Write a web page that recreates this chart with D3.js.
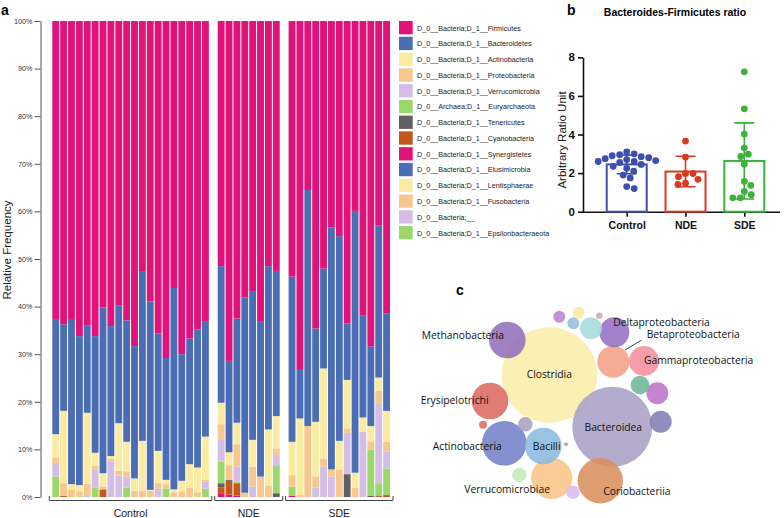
<!DOCTYPE html>
<html>
<head>
<meta charset="utf-8">
<script src="https://cdn.jsdelivr.net/npm/d3@7/dist/d3.min.js"></script>
<style>
  body { margin: 0; background: #fff; }
  svg { display: block; }
</style>
</head>
<body>
<svg id="fig" width="784" height="518"></svg>
<script>
// ---------- panel a : relative frequency per sample ----------
var controlIds = ['C1','C2','C3','C4','C5','C6','C7','C8','C9','C10','C11','C12','C13','C14','C15','C16','C17','C18','C19','C20'];
var ndeIds = ['N1','N2','N3','N4','N5','N6','N7','N8'];
var sdeIds = ['S1','S2','S3','S4','S5','S6','S7','S8','S9','S10','S11','S12','S13'];
var groupNames = ['Control', 'NDE', 'SDE'];

// values in %, order: C1..C20, N1..N8, S1..S13
var firmicutes = [62.6,63.7,62.8,66.2,63.9,66.2,60.2,64.1,59.7,62.9,68.3,52.7,58.9,65.6,70.8,56.1,70.0,66.7,64.8,63.2,
  51.5,71.4,62.5,58.1,56.9,63.2,51.5,52.5,
  53.7,73.3,35.5,64.6,52.0,43.4,45.2,63.5,39.9,61.8,68.4,42.9,61.4];
var bacteroidetes = [24.2,18.2,34.5,31.3,18.4,24.5,34.8,27.3,24.8,25.5,27.8,35.5,39.6,24.7,25.6,42.3,26.6,26.4,29.0,24.1,
  28.7,19.2,21.9,41.0,31.1,32.5,34.3,30.5,
  34.7,10.2,49.6,19.6,21.0,50.8,43.0,11.9,55.0,21.5,16.7,32.0,20.5];
var actinobacteria = [4.9,15.2,1.2,1.3,14.9,2.8,2.8,0.5,10.0,6.2,2.6,10.5,0.2,6.8,0.9,0.6,2.2,5.0,5.2,9.0,
  4.5,2.7,4.5,0,5.6,0,11.9,6.8,
  7.0,16.1,0,11.5,18.9,0,6.1,10.2,3.1,3.0,3.2,2.8,6.5];
var proteobacteria = [1.4,2.7,1.5,1.2,2.4,0.8,0.6,0.7,1.0,1.1,1.3,1.3,1.3,1.1,0.9,1.0,1.2,1.9,1.0,0.4,
  3.3,3.1,4.7,0.9,4.2,4.3,2.3,1.4,
  2.4,0.4,14.9,2.3,1.7,1.5,5.7,0.9,2.0,0,1.7,2.6,2.1];
var verrucomicrobia = [2.6,0,0,0,0.4,3.7,0,7.4,4.5,2.3,0,0,0,1.8,0,0,0,0,0,1.6,
  4.6,0,3.2,0,2.2,0,0,2.3,
  0,0,0,2.0,6.4,4.3,0,8.7,0,13.7,0,16.8,3.5];
var euryarchaeota = [4.3,0,0,0,0,2.0,0,0,0,2.0,0,0,0,0,1.8,0,0,0,0,1.7,
  4.5,0,0.3,0,0,0,0,5.7,
  1.9,0,0,0,0,0,0,0,0,0,9.7,2.7,5.6];
var tenericutes = [0,0,0,0,0,0,0,0,0,0,0,0,0,0,0,0,0,0,0,0,
  0.9,0.2,0,0,0,0,0,0.8,
  0,0,0,0,0,0,0,4.8,0,0,0.3,0,0];
var cyanobacteria = [0,0.2,0,0,0,0,1.6,0,0,0,0,0,0,0,0,0,0,0,0,0,
  1.2,2.9,2.6,0,0,0,0,0,
  0,0,0,0,0,0,0,0,0,0,0,0.2,0.4];
var synergistetes = [0,0,0,0,0,0,0,0,0,0,0,0,0,0,0,0,0,0,0,0,
  0.8,0.5,0.3,0,0,0,0,0,
  0.3,0,0,0,0,0,0,0,0,0,0,0,0];

var legendNames = [
  'D_0__Bacteria;D_1__Firmicutes',
  'D_0__Bacteria;D_1__Bacteroidetes',
  'D_0__Bacteria;D_1__Actinobacteria',
  'D_0__Bacteria;D_1__Proteobacteria',
  'D_0__Bacteria;D_1__Verrucomicrobia',
  'D_0__Archaea;D_1__Euryarchaeota',
  'D_0__Bacteria;D_1__Tenericutes',
  'D_0__Bacteria;D_1__Cyanobacteria',
  'D_0__Bacteria;D_1__Synergistetes',
  'D_0__Bacteria;D_1__Elusimicrobia',
  'D_0__Bacteria;D_1__Lentisphaerae',
  'D_0__Bacteria;D_1__Fusobacteria',
  'D_0__Bacteria;__',
  'D_0__Bacteria;D_1__Epsilonbacteraeota'
];
var palette = ['#e1127a','#4a6db4','#fbeba2','#f8c68f','#d5bee6','#9cd76c','#606060','#c4571c'];
var pctTicks = [0,10,20,30,40,50,60,70,80,90,100];

// ---------- panel b : Bacteroides-Firmicutes ratio ----------
var ratioControl = [3.1,3.0,2.95,2.9,2.85,2.8,2.75,2.7,2.65,2.6,2.6,2.55,2.45,2.35,2.25,2.1,1.9,1.75,1.3,1.2];
var ratioNDE = [3.66,2.83,1.98,1.98,1.81,1.68,1.48,1.42];
var ratioSDE = [7.25,5.33,4.02,3.31,2.98,2.86,2.46,1.36,1.57,1.05,0.88,0.72,0.72];
var ratioMean = [2.45, 2.08, 2.63];
var ratioSD = [0.48, 0.79, 1.97];
var ratioTicks = [0,2,4,6,8];
var groupColors = ['#3f4fb0','#d9391f','#3cb33b'];

// ---------- panel c : bubble chart of classes ----------
var bubbleValue = [100,70.3,22.6,21.9,18.8,14.7,14.7,14.7,11.3,9.9,9.9,5.3,5.3,5.3,3.8,2.3,2.3,2.0,1.6,1.6,1.6,0.7,0.48,0.18];
var bubbleX = [149.3,212.3,200.3,104.3,151.7,107.3,90,143.3,213.3,214.3,244,257.3,260.7,191,240,119.3,125.3,173,173.3,178.7,159.3,83,199.3,166];
var bubbleY = [85,136.7,190.7,153.3,188.3,50,111,156,71.7,42.3,71,103.3,131.7,38.3,95,185,134.3,202.3,33.3,22.7,26.7,134.7,25.7,154.3];
var bubbleColor = ['#fcedaa','#a9a1c5','#dd8f5e','#7282ca','#f9c486','#9171b9','#dc6a61','#8bbadf',
  '#f5a083','#9470c3','#f6909e','#bb74ca','#837db5','#a5dbdb','#6db797','#c3ecb7','#aaa2c3','#dcbcec',
  '#95bfe2','#fbe9a4','#b785d1','#dd6d5f','#ceaab3','#9ab2af'];
var labelText = ['Methanobacteria','Clostridia','Deltaproteobacteria','Betaproteobacteria','Gammaproteobacteria',
  'Erysipelotrichi','Bacteroidea','Actinobacteria','Bacilli','Verrucomicrobiae','Coriobacteriia'];
var labelX = [21.7,149.3,213.3,246.7,244,20.7,213.3,32.7,146.7,64.3,203.3];
var labelY = [49.3,88,36,48.3,74,114,140.7,160,160,202.7,205];
var labelAnchor = ['start','middle','start','start','start','start','middle','start','middle','start','start'];

var svg = d3.select('#fig');
var sans = '"Liberation Sans", Arial, Helvetica, sans-serif';

// ================= panel a =================
var slots = controlIds.concat(['gap1'], ndeIds, ['gap2'], sdeIds);
var sampleIds = controlIds.concat(ndeIds, sdeIds);
var rows = sampleIds.map(function (id, i) {
  return {
    id: id,
    firmicutes: firmicutes[i], bacteroidetes: bacteroidetes[i], actinobacteria: actinobacteria[i],
    proteobacteria: proteobacteria[i], verrucomicrobia: verrucomicrobia[i], euryarchaeota: euryarchaeota[i],
    tenericutes: tenericutes[i], cyanobacteria: cyanobacteria[i], synergistetes: synergistetes[i]
  };
});
// bottom -> top (legend order reversed)
var stackKeys = ['synergistetes','cyanobacteria','tenericutes','euryarchaeota','verrucomicrobia',
  'proteobacteria','actinobacteria','bacteroidetes','firmicutes'];
var keyColor = {
  firmicutes: palette[0], bacteroidetes: palette[1], actinobacteria: palette[2], proteobacteria: palette[3],
  verrucomicrobia: palette[4], euryarchaeota: palette[5], tenericutes: palette[6], cyanobacteria: palette[7],
  synergistetes: palette[0]
};

var xA = d3.scaleBand().domain(slots).range([51.8, 390.5]).paddingInner(0.13).paddingOuter(0.065);
var yA = d3.scaleLinear().domain([0, 100]).range([497, 21]);

var series = d3.stack().keys(stackKeys)(rows);
svg.append('g').selectAll('g')
  .data(series).enter()
  .append('g')
  .attr('fill', function (d) { return keyColor[d.key]; })
  .selectAll('rect')
  .data(function (d) { return d; }).enter()
  .append('rect')
  .attr('x', function (d) { return xA(d.data.id); })
  .attr('width', xA.bandwidth())
  .attr('y', function (d) { return yA(d[1]); })
  .attr('height', function (d) { return Math.max(0, yA(d[0]) - yA(d[1])); });

var axA = svg.append('g')
  .attr('transform', 'translate(40.5,0)')
  .call(d3.axisLeft(yA).tickValues(pctTicks).tickFormat(function (d) { return d + '%'; }).tickSize(6).tickSizeOuter(0).tickPadding(2));
axA.select('.domain').attr('stroke', '#555');
axA.selectAll('.tick line').attr('stroke', '#555');
axA.selectAll('text').attr('font-family', sans).attr('font-size', 7.2).attr('fill', '#333');

svg.append('text')
  .attr('transform', 'translate(10.5,250) rotate(-90)')
  .attr('text-anchor', 'middle')
  .attr('font-family', sans).attr('font-size', 11.5).attr('fill', '#222')
  .text('Relative Frequency');

svg.append('text').attr('x', 1).attr('y', 15)
  .attr('font-family', sans).attr('font-size', 14).attr('font-weight', 'bold')
  .text('a');

// group brackets
var groupIds = [controlIds, ndeIds, sdeIds];
groupIds.forEach(function (ids, g) {
  var x0 = xA(ids[0]) - 3, x1 = xA(ids[ids.length - 1]) + xA.bandwidth() + 3;
  svg.append('path')
    .attr('d', 'M' + x0 + ',496V500.5H' + x1 + 'V496')
    .attr('fill', 'none').attr('stroke', '#444').attr('stroke-width', 1);
  svg.append('text')
    .attr('x', (x0 + x1) / 2).attr('y', 517)
    .attr('text-anchor', 'middle')
    .attr('font-family', sans).attr('font-size', 10.5).attr('fill', '#222')
    .text(groupNames[g]);
});

// legend
var lg = svg.append('g').selectAll('g')
  .data(legendNames).enter()
  .append('g')
  .attr('transform', function (d, i) { return 'translate(399,' + (21 + i * 15.77) + ')'; });
lg.append('rect').attr('width', 13.7).attr('height', 13.3)
  .attr('fill', function (d, i) { return palette[i % palette.length]; });
lg.append('text').attr('x', 18).attr('y', 9.5)
  .attr('font-family', sans).attr('font-size', 7.2).attr('fill', '#222')
  .text(function (d) { return d; });

// ================= panel b =================
var yB = d3.scaleLinear().domain([0, 8]).range([211.7, 57.3]);
var xB = d3.scalePoint().domain(groupNames).range([626.7, 744.3]);
var barW = 40;

var axB = svg.append('g')
  .attr('transform', 'translate(583,0)')
  .call(d3.axisLeft(yB).tickValues(ratioTicks).tickSize(5).tickSizeOuter(0).tickPadding(3));
axB.select('.domain').attr('stroke', '#111').attr('stroke-width', 1.6);
axB.selectAll('.tick line').attr('stroke', '#111').attr('stroke-width', 1.6);
axB.selectAll('text').attr('font-family', sans).attr('font-size', 11.5).attr('font-weight', 'bold').attr('fill', '#111');

var axBx = svg.append('g')
  .attr('transform', 'translate(0,211.7)')
  .call(d3.axisBottom(xB).tickSize(5).tickSizeOuter(0).tickPadding(5));
axBx.select('.domain').attr('d', 'M583,0.5H780').attr('stroke', '#111').attr('stroke-width', 1.6);
axBx.selectAll('.tick line').attr('stroke', '#111').attr('stroke-width', 1.6);
axBx.selectAll('text').attr('font-family', sans).attr('font-size', 10.5).attr('font-weight', 'bold').attr('fill', '#111');

svg.append('text')
  .attr('transform', 'translate(566,140) rotate(-90)')
  .attr('text-anchor', 'middle')
  .attr('font-family', sans).attr('font-size', 11.5).attr('fill', '#222')
  .text('Arbitrary Ratio Unit');

svg.append('text').attr('x', 675).attr('y', 15.5)
  .attr('text-anchor', 'middle')
  .attr('font-family', sans).attr('font-size', 10.5).attr('font-weight', 'bold')
  .text('Bacteroides-Firmicutes ratio');
svg.append('text').attr('x', 567).attr('y', 15)
  .attr('font-family', sans).attr('font-size', 14).attr('font-weight', 'bold')
  .text('b');

svg.append('g').selectAll('rect')
  .data(groupNames).enter()
  .append('rect')
  .attr('x', function (d) { return xB(d) - barW / 2; })
  .attr('width', barW)
  .attr('y', function (d, i) { return yB(ratioMean[i]); })
  .attr('height', function (d, i) { return yB(0) - yB(ratioMean[i]); })
  .attr('fill', '#fff')
  .attr('stroke', function (d, i) { return groupColors[i]; })
  .attr('stroke-width', 2);

// simple dodge so points do not overlap (like a scatter dot plot)
var dotR = 3.4;
function dodge(vals) {
  var placed = [];
  var order = vals.map(function (v, i) { return i; }).sort(function (a, b) { return vals[b] - vals[a]; });
  var out = new Array(vals.length);
  order.forEach(function (i) {
    var y = yB(vals[i]), best = 0;
    for (var k = 0; k < 200; k++) {
      var off = (k % 2 ? 1 : -1) * Math.ceil(k / 2) * 0.5;
      var ok = placed.every(function (p) {
        var dx = p[0] - off, dy = p[1] - y;
        return dx * dx + dy * dy >= (2 * dotR + 0.6) * (2 * dotR + 0.6);
      });
      if (ok) { best = off; break; }
    }
    placed.push([best, y]);
    out[i] = best;
  });
  return out;
}

[ratioControl, ratioNDE, ratioSDE].forEach(function (vals, g) {
  var offs = dodge(vals);
  var cx = xB(groupNames[g]);
  var top = yB(ratioMean[g] + ratioSD[g]), bot = yB(ratioMean[g] - ratioSD[g]);
  svg.append('g').selectAll('circle')
    .data(vals).enter()
    .append('circle')
    .attr('cx', function (d, i) { return cx + offs[i]; })
    .attr('cy', function (d) { return yB(d); })
    .attr('r', dotR)
    .attr('fill', groupColors[g]);
  // error bar (mean ± SD)
  svg.append('path')
    .attr('d', 'M' + cx + ',' + top + 'V' + bot + 'M' + (cx - 10) + ',' + top + 'H' + (cx + 10) + 'M' + (cx - 10) + ',' + bot + 'H' + (cx + 10))
    .attr('stroke', groupColors[g]).attr('stroke-width', 1.6).attr('fill', 'none');
});

// ================= panel c =================
var xC = d3.scaleLinear().domain([0, 384]).range([400, 784]);
var yC = d3.scaleLinear().domain([0, 228]).range([290, 518]);
var rC = d3.scaleSqrt().domain([0, 100]).range([0, 47.7]);

svg.append('g').selectAll('circle')
  .data(bubbleValue).enter()
  .append('circle')
  .attr('cx', function (d, i) { return xC(bubbleX[i]); })
  .attr('cy', function (d, i) { return yC(bubbleY[i]); })
  .attr('r', function (d) { return rC(d); })
  .attr('fill', function (d, i) { return bubbleColor[i]; })
  .attr('fill-opacity', 0.88);

svg.append('line')
  .attr('x1', xC(225)).attr('y1', yC(60))
  .attr('x2', xC(241.7)).attr('y2', yC(50))
  .attr('stroke', '#111').attr('stroke-width', 0.8);

svg.append('g').selectAll('text')
  .data(labelText).enter()
  .append('text')
  .attr('x', function (d, i) { return xC(labelX[i]); })
  .attr('y', function (d, i) { return yC(labelY[i]); })
  .attr('text-anchor', function (d, i) { return labelAnchor[i]; })
  .attr('font-family', '"Open Sans", "Noto Sans", sans-serif')
  .attr('font-size', 10.3).attr('fill', '#111')
  .text(function (d) { return d; });

svg.append('text').attr('x', 456).attr('y', 295)
  .attr('font-family', sans).attr('font-size', 14).attr('font-weight', 'bold')
  .text('c');
</script>
</body>
</html>
